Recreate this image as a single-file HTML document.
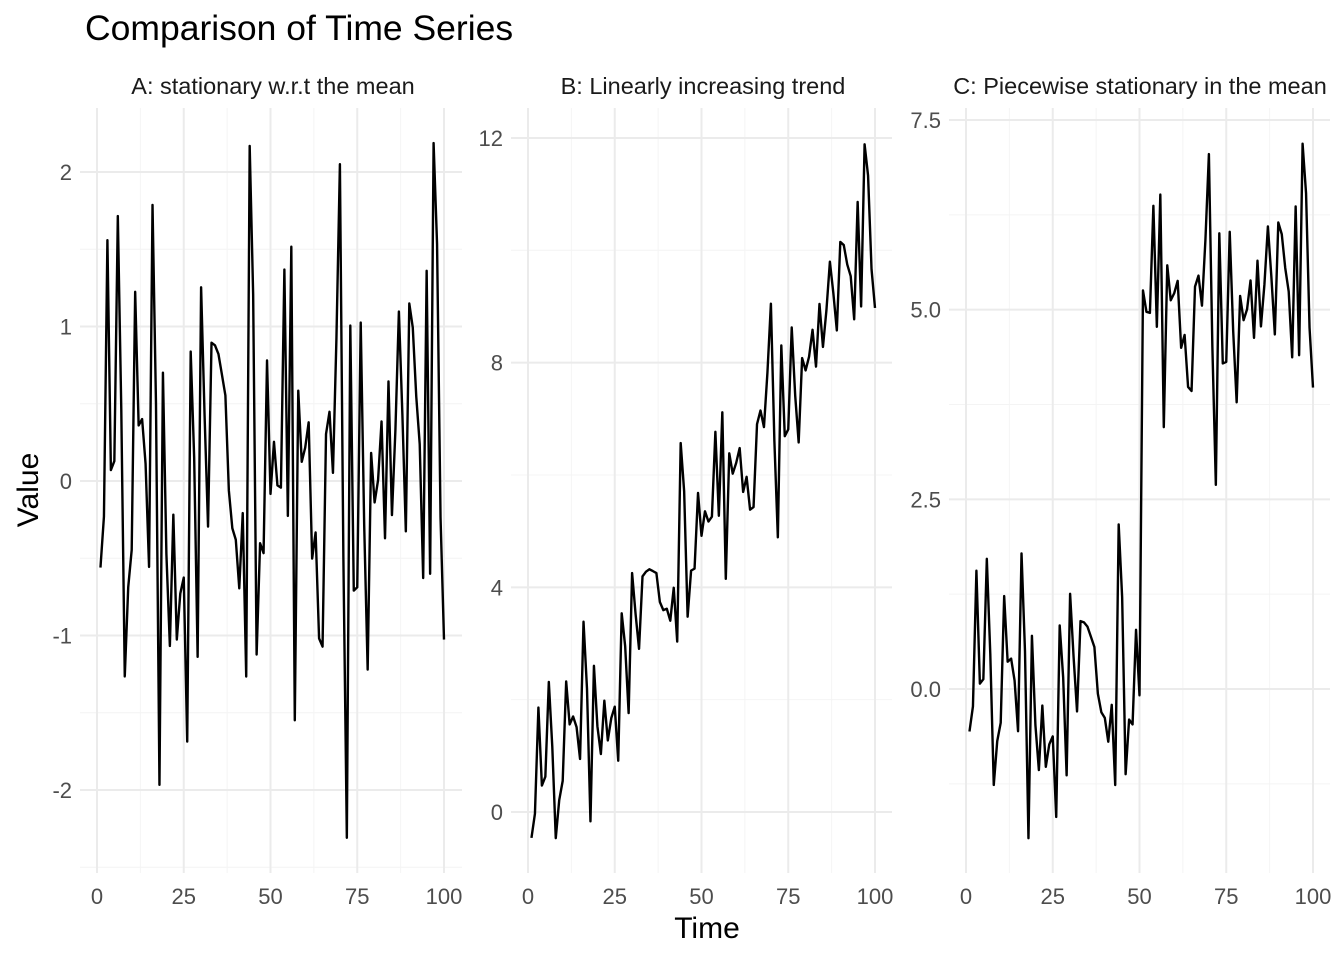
<!DOCTYPE html>
<html><head><meta charset="utf-8"><style>
body{margin:0;background:#fff;}
svg{display:block;font-family:"Liberation Sans",Arial,sans-serif;}
</style></head><body>
<svg id="s" width="1344" height="960" xmlns="http://www.w3.org/2000/svg">
<rect width="1344" height="960" fill="#fff"/>
<g id="grid"></g>
<g id="lines"></g>
<g id="labels" fill="#4d4d4d" font-size="22"></g>
<text x="85" y="40" font-size="35.5" fill="#000">Comparison of Time Series</text>
<text x="273" y="94" font-size="23.5" fill="#1a1a1a" text-anchor="middle">A: stationary w.r.t the mean</text>
<text x="703" y="94" font-size="23.5" fill="#1a1a1a" text-anchor="middle">B: Linearly increasing trend</text>
<text x="1140" y="94" font-size="23.5" fill="#1a1a1a" text-anchor="middle">C: Piecewise stationary in the mean</text>
<text x="707" y="938" font-size="30" fill="#000" text-anchor="middle">Time</text>
<text transform="translate(38,490) rotate(-90)" font-size="30" fill="#000" text-anchor="middle">Value</text>
</svg>
<script>
var A=[-0.56047565,-0.23017749,1.55870831,0.07050839,0.12928774,1.71506499,0.46091621,-1.26506123,-0.68685285,-0.44566197,1.22408180,0.35981383,0.40077145,0.11068272,-0.55584113,1.78691314,0.49785048,-1.96661716,0.70135590,-0.47279141,-1.06782371,-0.21797491,-1.02600445,-0.72889123,-0.62503927,-1.68669331,0.83778704,0.15337312,-1.13813694,1.25381492,0.42646422,-0.29507148,0.89512566,0.87813349,0.82158108,0.68864025,0.55391765,-0.06191171,-0.30596266,-0.38047100,-0.69470698,-0.20791728,-1.26539635,2.16895597,1.20796200,-1.12310858,-0.40288484,-0.46665535,0.77996512,-0.08336907,0.25331851,-0.02854676,-0.04287046,1.36860228,-0.22577099,1.51647060,-1.54875280,0.58461375,0.12385424,0.21594157,0.37963948,-0.50232345,-0.33320738,-1.01857538,-1.07179123,0.30352864,0.44820978,0.05300423,0.92226747,2.05008469,-0.49103117,-2.30916888,1.00573852,-0.70920076,-0.68800862,1.02557137,-0.28477301,-1.22071771,0.18130348,-0.13889136,0.00576418,0.38528040,-0.37066003,0.64437655,-0.22048656,0.33178196,1.09683901,0.43518149,-0.32593159,1.14880762,0.99350386,0.54839696,0.23873174,-0.62790870,1.36065245,-0.60025959,2.18733299,1.53261063,-0.23570036,-1.02642105];
var NS="http://www.w3.org/2000/svg";
function el(p,t,a,txt){var e=document.createElementNS(NS,t);for(var k in a)e.setAttribute(k,a[k]);if(txt!==undefined)e.textContent=txt;document.getElementById(p).appendChild(e);}
var panels=[
 {x0:97,x1:444,L:80,R:462,y0:481,s:154.5,maj:[-2,-1,0,1,2],lab:["-2","-1","0","1","2"],min:[-2.5,-1.5,-0.5,0.5,1.5],f:function(t,a){return a;}},
 {x0:528,x1:875,L:511,R:892,y0:812,s:56.17,maj:[0,4,8,12],lab:["0","4","8","12"],min:[2,6,10],f:function(t,a){return a+0.1*t;}},
 {x0:966,x1:1313,L:949,R:1330,y0:689,s:75.87,maj:[0,2.5,5,7.5],lab:["0.0","2.5","5.0","7.5"],min:[-1.25,1.25,3.75,6.25],f:function(t,a){return t>50?a+5:a;}}
];
var T=108,B=873;
panels.forEach(function(p){
 function X(t){return p.x0+(p.x1-p.x0)*t/100;}
 function Y(v){return p.y0-v*p.s;}
 p.min.forEach(function(v){var y=Y(v);if(y>T&&y<B)el("grid","line",{x1:p.L,x2:p.R,y1:y,y2:y,stroke:"#f4f4f4","stroke-width":1});});
 [12.5,37.5,62.5,87.5].forEach(function(t){el("grid","line",{x1:X(t),x2:X(t),y1:T,y2:B,stroke:"#f4f4f4","stroke-width":1});});
 p.maj.forEach(function(v,i){var y=Y(v);el("grid","line",{x1:p.L,x2:p.R,y1:y,y2:y,stroke:"#ebebeb","stroke-width":2});
   el("labels","text",{x:p.L-8,y:y+8,"text-anchor":"end"},p.lab[i]);});
 [0,25,50,75,100].forEach(function(t){el("grid","line",{x1:X(t),x2:X(t),y1:T,y2:B,stroke:"#ebebeb","stroke-width":2});
   el("labels","text",{x:X(t),y:904,"text-anchor":"middle"},""+t);});
 var pts=A.map(function(a,i){var t=i+1;return X(t).toFixed(2)+","+Y(p.f(t,a)).toFixed(2);}).join(" ");
 el("lines","polyline",{points:pts,fill:"none",stroke:"#000","stroke-width":2.4,"stroke-linejoin":"round"});
});
</script>
</body></html>
